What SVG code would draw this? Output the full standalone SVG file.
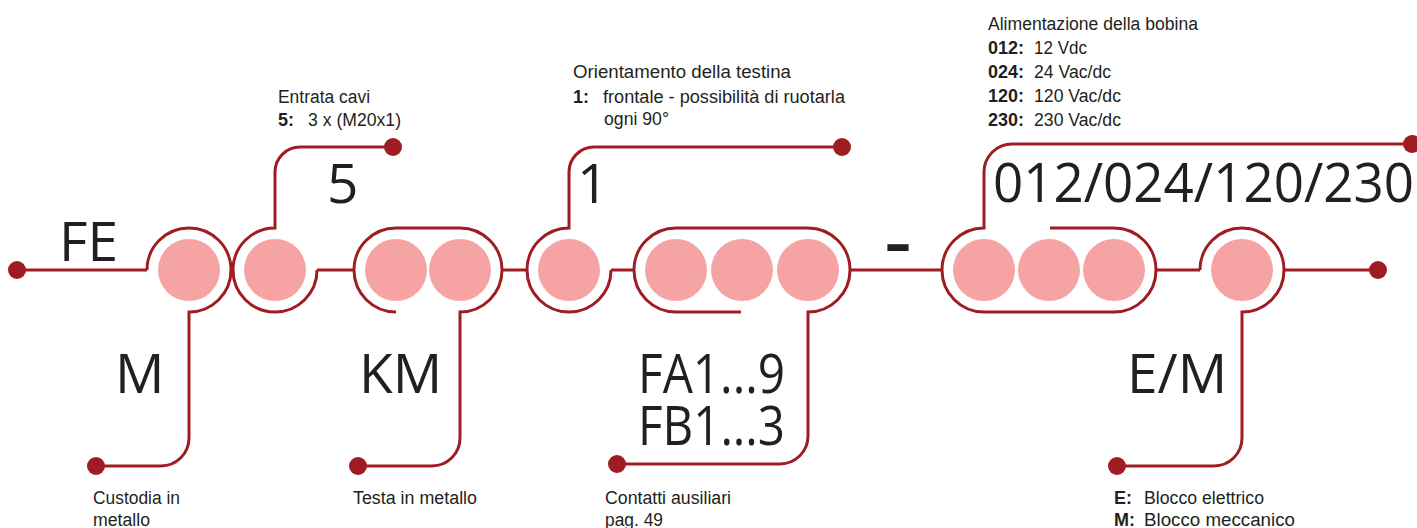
<svg xmlns="http://www.w3.org/2000/svg" width="1417" height="528" viewBox="0 0 1417 528">
<style>
.ln{fill:none;stroke:#9e1c22;stroke-width:3}
.dot{fill:#9e1c22}
.fill{fill:#f6a3a4}
.big{font-family:"Open Sans","Noto Sans",sans-serif;font-size:55px;fill:#231f20}
.sm{font-family:"Liberation Sans Narrow","Liberation Sans",Arial,sans-serif;font-size:18px;fill:#231f20}
.b{font-weight:bold}
</style>
<rect width="1417" height="528" fill="#ffffff"/>
<g id="connectors">
<path class="ln" d="M17,270 L147,270"/>
<path class="ln" d="M317,270 L354,270"/>
<path class="ln" d="M502,270 L527,270"/>
<path class="ln" d="M611,270 L634,270"/>
<path class="ln" d="M850,270 L942,270"/>
<path class="ln" d="M1156,270 L1200,270"/>
<path class="ln" d="M1284,270 L1378,270"/>
<circle class="dot" cx="17" cy="270" r="9"/>
<circle class="dot" cx="1378" cy="270" r="9"/>
</g>
<g id="node-FE-M">
<circle class="fill" cx="189" cy="270" r="31"/>
<path class="ln" d="M147,270 A42,42 0 1 1 189,312 L189,438 A28,28 0 0 1 161,466 L96,466"/>
<circle class="dot" cx="96" cy="466" r="9"/>
<text class="big" x="59" y="261">FE</text>
<text class="big" x="115" y="393">M</text>
<text class="sm" x="93" y="504" textLength="87" lengthAdjust="spacingAndGlyphs">Custodia in</text>
<text class="sm" x="93" y="526" textLength="57" lengthAdjust="spacingAndGlyphs">metallo</text>
</g>
<g id="node-5">
<circle class="fill" cx="275" cy="270" r="31"/>
<path class="ln" d="M393,147 L300,147 A25,25 0 0 0 275,172 L275,228 A42,42 0 1 0 317,270"/>
<circle class="dot" cx="393" cy="147" r="9"/>
<text class="big" x="327" y="203">5</text>
<text class="sm" x="278" y="103" textLength="92" lengthAdjust="spacingAndGlyphs">Entrata cavi</text>
<text class="sm b" x="278" y="126">5:</text>
<text class="sm" x="308" y="126" textLength="93" lengthAdjust="spacingAndGlyphs">3 x (M20x1)</text>
</g>
<g id="node-KM">
<circle class="fill" cx="396" cy="270" r="31"/>
<circle class="fill" cx="460" cy="270" r="31"/>
<path class="ln" d="M396,312 A42,42 0 0 1 396,228 L460,228 A42,42 0 0 1 460,312 L460,438 A28,28 0 0 1 432,466 L358,466"/>
<circle class="dot" cx="358" cy="466" r="9"/>
<text class="big" x="359" y="393">KM</text>
<text class="sm" x="353" y="504" textLength="124" lengthAdjust="spacingAndGlyphs">Testa in metallo</text>
</g>
<g id="node-1">
<circle class="fill" cx="569" cy="270" r="31"/>
<path class="ln" d="M842,147 L594,147 A25,25 0 0 0 569,172 L569,228 A42,42 0 1 0 611,270"/>
<circle class="dot" cx="842" cy="147" r="9"/>
<text class="big" x="577" y="203">1</text>
<text class="sm" x="573" y="78" textLength="218" lengthAdjust="spacingAndGlyphs">Orientamento della testina</text>
<text class="sm b" x="573" y="103">1:</text>
<text class="sm" x="603" y="103" textLength="242" lengthAdjust="spacingAndGlyphs">frontale - possibilità di ruotarla</text>
<text class="sm" x="604" y="125" textLength="65" lengthAdjust="spacingAndGlyphs">ogni 90°</text>
</g>
<g id="node-FA-FB">
<circle class="fill" cx="676" cy="270" r="31"/>
<circle class="fill" cx="742" cy="270" r="31"/>
<circle class="fill" cx="808" cy="270" r="31"/>
<path class="ln" d="M741,312 L676,312 A42,42 0 0 1 676,228 L808,228 A42,42 0 0 1 808,312 L808,436 A28,28 0 0 1 780,464 L617,464"/>
<circle class="dot" cx="617" cy="464" r="9"/>
<text class="big" x="638" y="393" font-size="54" textLength="147" lengthAdjust="spacingAndGlyphs">FA1...9</text>
<text class="big" x="638" y="445" font-size="54" textLength="147" lengthAdjust="spacingAndGlyphs">FB1...3</text>
<text class="sm" x="605" y="504" textLength="126" lengthAdjust="spacingAndGlyphs">Contatti ausiliari</text>
<text class="sm" x="605" y="526" textLength="58" lengthAdjust="spacingAndGlyphs">pag. 49</text>
</g>
<g id="separator">
<text class="big b" x="885" y="263" textLength="26" lengthAdjust="spacingAndGlyphs">-</text>
</g>
<g id="node-voltage">
<circle class="fill" cx="984" cy="270" r="31"/>
<circle class="fill" cx="1049" cy="270" r="31"/>
<circle class="fill" cx="1114" cy="270" r="31"/>
<path class="ln" d="M1050,228 L1114,228 A42,42 0 0 1 1114,312 L984,312 A42,42 0 0 1 984,228 L984,172 A28,28 0 0 1 1012,144 L1412,144"/>
<circle class="dot" cx="1412" cy="144" r="9"/>
<text class="big" x="993" y="202" textLength="421" lengthAdjust="spacingAndGlyphs">012/024/120/230</text>
<text class="sm" x="988" y="30" textLength="210" lengthAdjust="spacingAndGlyphs">Alimentazione della bobina</text>
<text class="sm b" x="988" y="54">012:</text>
<text class="sm" x="1034" y="54" textLength="53" lengthAdjust="spacingAndGlyphs">12 Vdc</text>
<text class="sm b" x="988" y="78">024:</text>
<text class="sm" x="1034" y="78" textLength="77" lengthAdjust="spacingAndGlyphs">24 Vac/dc</text>
<text class="sm b" x="988" y="102">120:</text>
<text class="sm" x="1034" y="102" textLength="87" lengthAdjust="spacingAndGlyphs">120 Vac/dc</text>
<text class="sm b" x="988" y="126">230:</text>
<text class="sm" x="1034" y="126" textLength="87" lengthAdjust="spacingAndGlyphs">230 Vac/dc</text>
</g>
<g id="node-EM">
<circle class="fill" cx="1242" cy="270" r="31"/>
<path class="ln" d="M1200,270 A42,42 0 1 1 1242,312 L1242,438 A28,28 0 0 1 1214,466 L1117,466"/>
<circle class="dot" cx="1117" cy="466" r="9"/>
<text class="big" x="1127" y="393">E/M</text>
<text class="sm b" x="1114" y="504">E:</text>
<text class="sm" x="1144" y="504" textLength="120" lengthAdjust="spacingAndGlyphs">Blocco elettrico</text>
<text class="sm b" x="1114" y="526">M:</text>
<text class="sm" x="1144" y="526" textLength="151" lengthAdjust="spacingAndGlyphs">Blocco meccanico</text>
</g>
</svg>
